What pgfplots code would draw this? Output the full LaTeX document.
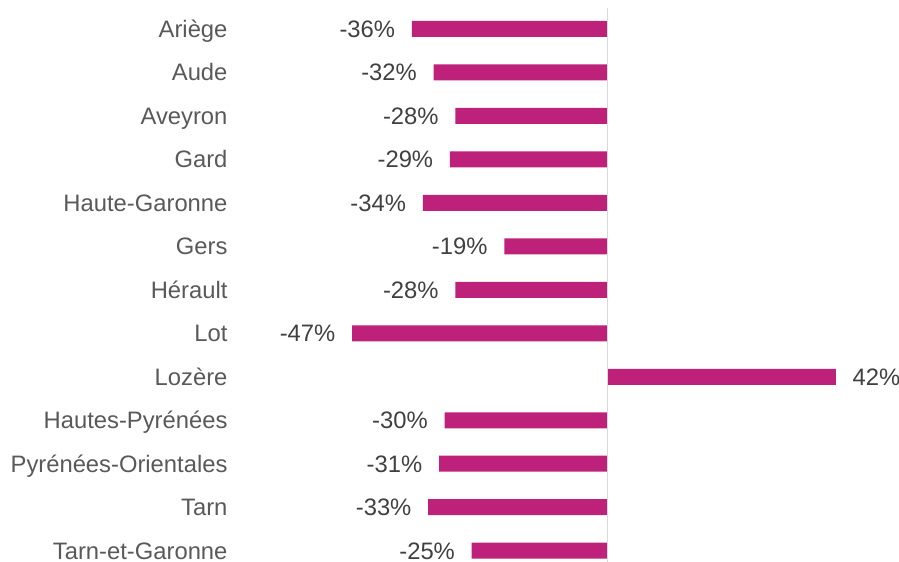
\documentclass[border=0pt]{standalone}
\usepackage{pgfplots}
\pgfplotsset{compat=1.18}
\usepackage{fontspec}
\setmainfont{Liberation Sans}
\definecolor{barc}{RGB}{190,33,122}
\definecolor{lblc}{RGB}{89,89,89}
\definecolor{valc}{RGB}{64,64,64}
\definecolor{axc}{RGB}{217,217,217}
\begin{document}
\begin{tikzpicture}
\begin{axis}[
  x=2.72pt, y=21.75pt,
  xmin=-69.85, xmax=50,
  ymin=-0.667, ymax=12.25,
  y dir=reverse,
  axis line style={draw=none},
  xtick=\empty,
  ytick={0,...,12},
  yticklabels={Ariège,Aude,Aveyron,Gard,Haute-Garonne,Gers,Hérault,Lot,Lozère,Hautes-Pyrénées,Pyrénées-Orientales,Tarn,Tarn-et-Garonne},
  major tick length=0pt,
  tick style={draw=none},
  yticklabel style={inner sep=0pt, anchor=east, text height=8.52pt, text depth=0pt, font=\fontsize{11.9}{14}\selectfont, text=lblc},
  xbar, bar width=8pt, bar shift=0pt,
  nodes near coords={\pgfmathprintnumber{\pgfplotspointmeta}\%},
  nodes near coords align={horizontal},
  every node near coord/.append style={font=\fontsize{11.9}{14}\selectfont, text=valc, inner xsep=8.2pt, inner ysep=0pt, text height=8.52pt, text depth=0pt},
  /pgf/number format/assume math mode=true,
  clip=false,
]
\addplot[fill=barc, draw=none] coordinates {
(-36,0) (-32,1) (-28,2) (-29,3) (-34,4) (-19,5) (-28,6) (-47,7) (42,8) (-30,9) (-31,10) (-33,11) (-25,12)
};
\draw[axc, line width=0.75pt] (axis cs:0,-0.48) -- (axis cs:0,12.25);
\coordinate (BBA) at (axis cs:-111.76,-0.667);
\coordinate (BBB) at (axis cs:53.6,12.253);
\end{axis}
\pgfresetboundingbox
\path[use as bounding box] (BBA) rectangle (BBB);
\end{tikzpicture}
\end{document}
